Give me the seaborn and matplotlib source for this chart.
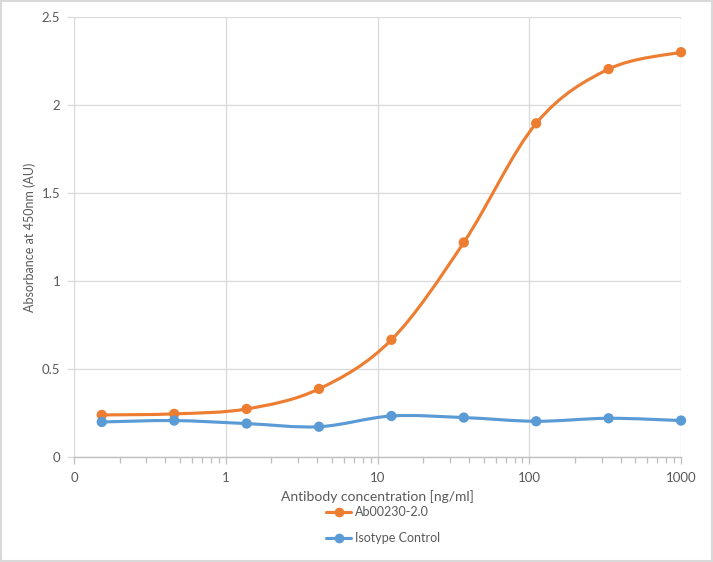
import numpy as np
import pandas as pd
import seaborn as sns
import matplotlib
matplotlib.use("Agg")
import matplotlib.pyplot as plt
from matplotlib.path import Path
from matplotlib.patches import PathPatch
from matplotlib.lines import Line2D
from matplotlib.ticker import LogLocator, FixedLocator, FuncFormatter

# ---- data ----
concentration = [0.1524, 0.4572, 1.372, 4.115, 12.35, 37.04, 111.1, 333.3, 1000.0]
ab_values = [0.239, 0.245, 0.273, 0.387, 0.666, 1.219, 1.896, 2.204, 2.300]
iso_values = [0.199, 0.207, 0.190, 0.172, 0.233, 0.224, 0.203, 0.220, 0.207]
series_names = ["Ab00230-2.0", "Isotype Control"]
x_tick_values = [0.1, 1, 10, 100, 1000]
x_tick_labels = ["0", "1", "10", "100", "1000"]
y_tick_values = [0, 0.5, 1, 1.5, 2, 2.5]
y_tick_labels = ["0", "0.5", "1", "1.5", "2", "2.5"]

colors = {"Ab00230-2.0": "#ED7D31", "Isotype Control": "#5B9BD5"}

df = pd.DataFrame({
    "conc": concentration * 2,
    "abs": ab_values + iso_values,
    "series": [series_names[0]] * len(ab_values) + [series_names[1]] * len(iso_values),
})

sns.set_theme(style="white")
plt.rcParams["font.family"] = ["Lato", "DejaVu Sans"]

fig = plt.figure(figsize=(7.13, 5.62), dpi=100)
ax = fig.add_axes([74 / 713, 1 - 457 / 562, (681 - 74) / 713, (457 - 17) / 562])
ax.set_xscale("log")
ax.set_xlim(0.1, 1000)
ax.set_ylim(0, 2.5)


def smooth_path(xs, ys):
    """Excel-style smoothed line: cubic Bezier segments (Catmull-Rom) in log-x space."""
    lx = np.log10(np.asarray(xs, float))
    y = np.asarray(ys, float)
    n = len(lx)
    verts = [(10 ** lx[0], y[0])]
    codes = [Path.MOVETO]
    for i in range(n - 1):
        p0 = max(i - 1, 0)
        p3 = min(i + 2, n - 1)
        c1x = lx[i] + (lx[i + 1] - lx[p0]) / 6
        c1y = y[i] + (y[i + 1] - y[p0]) / 6
        c2x = lx[i + 1] - (lx[p3] - lx[i]) / 6
        c2y = y[i + 1] - (y[p3] - y[i]) / 6
        verts += [(10 ** c1x, c1y), (10 ** c2x, c2y), (10 ** lx[i + 1], y[i + 1])]
        codes += [Path.CURVE4] * 3
    return Path(verts, codes)


for name in series_names:
    sub = df[df["series"] == name]
    patch = PathPatch(smooth_path(sub["conc"], sub["abs"]), facecolor="none",
                      edgecolor=colors[name], lw=2.25, capstyle="round",
                      joinstyle="round", zorder=3, clip_on=False)
    ax.add_patch(patch)

sns.scatterplot(data=df, x="conc", y="abs", hue="series", palette=colors,
                s=55, edgecolor="none", linewidth=0, ax=ax, zorder=4, legend=False,
                clip_on=False)

# ---- axes styling ----
ax.xaxis.set_major_locator(FixedLocator(x_tick_values))
ax.set_xticklabels(x_tick_labels)
ax.xaxis.set_minor_locator(LogLocator(base=10, subs=np.arange(2, 10), numticks=20))
ax.xaxis.set_minor_formatter(FuncFormatter(lambda v, p: ""))
ax.set_yticks(y_tick_values)
ax.set_yticklabels(y_tick_labels)

grid_c = "#d9d9d9"
ax.grid(True, which="major", axis="both", color=grid_c, lw=0.9)
ax.set_axisbelow(True)
for s in ["top", "right", "left"]:
    ax.spines[s].set_visible(False)
ax.spines["bottom"].set_color("#bfbfbf")
ax.spines["bottom"].set_linewidth(1.0)

ax.tick_params(axis="x", which="major", direction="out", length=5, width=0.9,
               color="#bfbfbf", labelsize=9.5, labelcolor="#595959", pad=6, bottom=True)
ax.tick_params(axis="x", which="minor", direction="out", length=4, width=0.9,
               color="#bfbfbf", bottom=True)
ax.tick_params(axis="y", which="major", direction="out", length=5, width=0.9,
               color="#d9d9d9", labelsize=9.5, labelcolor="#595959", pad=5, left=True)

ax.set_xlabel("Antibody concentration [ng/ml]", fontsize=10, color="#595959")
ax.set_ylabel("Absorbance at 450nm (AU)", fontsize=9, color="#595959")
ax.xaxis.set_label_coords(0.5, -0.075)
ax.yaxis.set_label_coords(-0.062, 0.5)

handles = [Line2D([0], [0], color=colors[n], lw=2.25, marker="o", markersize=7,
                  markeredgewidth=0) for n in series_names]
leg = fig.legend(handles, series_names, loc="center", bbox_to_anchor=(383 / 713, 1 - 525 / 562),
                 frameon=False, fontsize=9, handlelength=2.0, handletextpad=0.3,
                 labelspacing=1.1, labelcolor="#595959")

# chart border
fig.patches.append(plt.Rectangle((0.001, 0.001), 0.998, 0.998, transform=fig.transFigure,
                                 fill=False, edgecolor="#d9d9d9", lw=1.5))

fig.savefig("out.png", dpi=100)
